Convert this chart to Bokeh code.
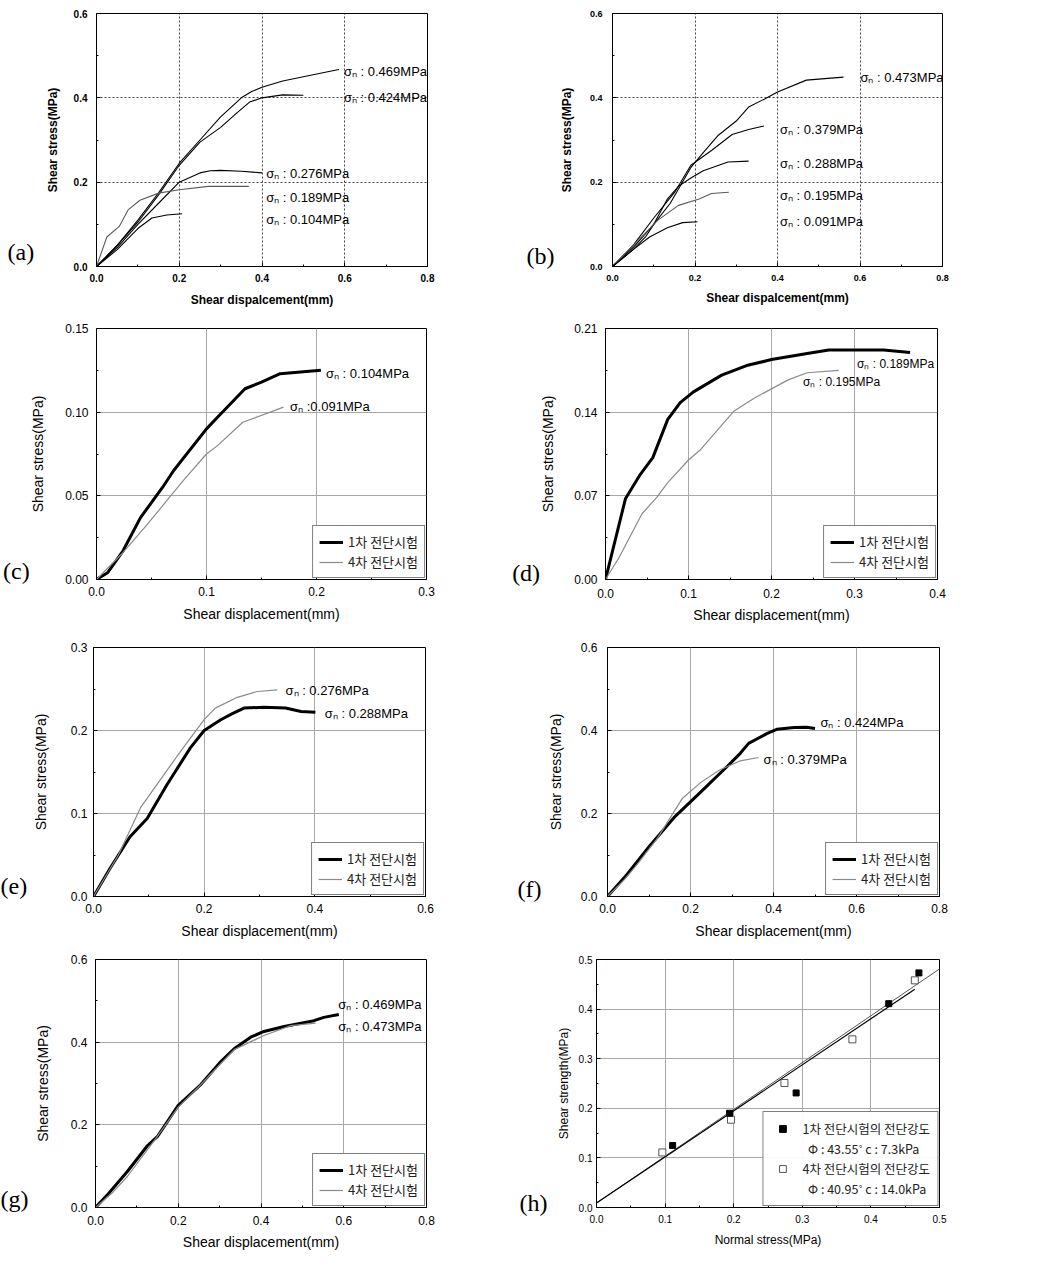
from bokeh.plotting import figure
from bokeh.models import Range1d, FixedTicker, PrintfTickFormatter, Label, Legend, LegendItem
from bokeh.layouts import column, row
from bokeh.embed import file_html
from bokeh.resources import INLINE
from bokeh.core.properties import value

SANS = "Liberation Sans"
SERIF = "Liberation Serif"
KR = "Noto Sans CJK KR"
SIG = "\u03c3\u2099"

# ---------------- data ----------------
# (a) first shear test, all normal stresses
a469_x = [0, 0.05, 0.10, 0.15, 0.20, 0.25, 0.30, 0.35, 0.375, 0.40, 0.45, 0.50, 0.55, 0.586]
a469_y = [0, 0.05, 0.11, 0.175, 0.245, 0.30, 0.355, 0.40, 0.415, 0.425, 0.44, 0.45, 0.46, 0.467]
a424_x = [0, 0.05, 0.10, 0.15, 0.20, 0.25, 0.30, 0.34, 0.37, 0.40, 0.45, 0.50]
a424_y = [0, 0.05, 0.105, 0.17, 0.24, 0.295, 0.33, 0.365, 0.39, 0.40, 0.407, 0.406]
a276_x = [0, 0.05, 0.10, 0.15, 0.20, 0.25, 0.275, 0.30, 0.35, 0.40]
a276_y = [0, 0.045, 0.10, 0.15, 0.20, 0.222, 0.227, 0.228, 0.226, 0.222]
a189_x = [0, 0.025, 0.055, 0.077, 0.105, 0.15, 0.20, 0.27, 0.368]
a189_y = [0, 0.07, 0.095, 0.135, 0.157, 0.174, 0.182, 0.19, 0.19]
a104_x = [0, 0.05, 0.10, 0.134, 0.17, 0.207]
a104_y = [0, 0.04, 0.09, 0.115, 0.122, 0.125]
a_lab_x = [0.598, 0.598, 0.41, 0.41, 0.41]
a_lab_y = [0.463, 0.400, 0.220, 0.164, 0.112]
a_lab_t = [SIG + " : 0.469MPa", SIG + " : 0.424MPa", SIG + " : 0.276MPa",
           SIG + " : 0.189MPa", SIG + " : 0.104MPa"]

# (b) fourth shear test, all normal stresses
b473_x = [0, 0.05, 0.10, 0.14, 0.19, 0.22, 0.255, 0.30, 0.33, 0.37, 0.40, 0.47, 0.56]
b473_y = [0, 0.045, 0.10, 0.15, 0.235, 0.27, 0.31, 0.345, 0.378, 0.398, 0.414, 0.442, 0.449]
b379_x = [0, 0.05, 0.10, 0.15, 0.19, 0.24, 0.29, 0.33, 0.367]
b379_y = [0, 0.05, 0.115, 0.175, 0.24, 0.275, 0.313, 0.325, 0.333]
b288_x = [0, 0.05, 0.08, 0.10, 0.133, 0.16, 0.19, 0.22, 0.28, 0.33]
b288_y = [0, 0.04, 0.07, 0.10, 0.16, 0.19, 0.21, 0.227, 0.248, 0.25]
b195_x = [0, 0.04, 0.08, 0.11, 0.16, 0.21, 0.24, 0.282]
b195_y = [0, 0.04, 0.08, 0.11, 0.145, 0.16, 0.173, 0.176]
b091_x = [0, 0.05, 0.09, 0.133, 0.17, 0.206]
b091_y = [0, 0.04, 0.07, 0.092, 0.104, 0.106]
b_lab_x = [0.601, 0.406, 0.406, 0.406, 0.406]
b_lab_y = [0.448, 0.325, 0.245, 0.169, 0.106]
b_lab_t = [SIG + " : 0.473MPa", SIG + " : 0.379MPa", SIG + " : 0.288MPa",
           SIG + " : 0.195MPa", SIG + " : 0.091MPa"]

# (c)
c1_x = [0, 0.01, 0.024, 0.04, 0.06, 0.07, 0.10, 0.11, 0.135, 0.15, 0.167, 0.204]
c1_y = [0, 0.004, 0.017, 0.037, 0.055, 0.065, 0.09, 0.097, 0.114, 0.118, 0.123, 0.125]
c4_x = [0, 0.024, 0.045, 0.065, 0.08, 0.10, 0.11, 0.133, 0.17]
c4_y = [0, 0.016, 0.032, 0.048, 0.06, 0.075, 0.08, 0.094, 0.103]
c_lab_x = [0.2086, 0.176]
c_lab_y = [0.123, 0.1034]
c_lab_t = [SIG + " : 0.104MPa", SIG + " :0.091MPa"]

# (d)
d1_x = [0, 0.024, 0.042, 0.057, 0.075, 0.09, 0.106, 0.14, 0.17, 0.20, 0.243, 0.269, 0.335, 0.367]
d1_y = [0, 0.0675, 0.088, 0.102, 0.134, 0.148, 0.157, 0.171, 0.179, 0.184, 0.189, 0.192, 0.192, 0.19]
d4_x = [0, 0.016, 0.044, 0.062, 0.075, 0.10, 0.115, 0.155, 0.18, 0.22, 0.243, 0.281]
d4_y = [0, 0.018, 0.055, 0.069, 0.081, 0.10, 0.109, 0.141, 0.152, 0.167, 0.173, 0.175]
d_lab_x = [0.303, 0.238]
d_lab_y = [0.180, 0.165]
d_lab_t = [SIG + " : 0.189MPa", SIG + " : 0.195MPa"]

# (e)
e1_x = [0, 0.03, 0.066, 0.097, 0.133, 0.175, 0.20, 0.23, 0.25, 0.272, 0.308, 0.347, 0.375, 0.401]
e1_y = [0, 0.034, 0.072, 0.094, 0.135, 0.179, 0.20, 0.213, 0.22, 0.227, 0.228, 0.227, 0.223, 0.222]
e4_x = [0, 0.045, 0.085, 0.12, 0.151, 0.20, 0.22, 0.26, 0.296, 0.332]
e4_y = [0, 0.05, 0.107, 0.14, 0.169, 0.213, 0.227, 0.24, 0.247, 0.249]
e_lab_x = [0.347, 0.418]
e_lab_y = [0.248, 0.220]
e_lab_t = [SIG + " : 0.276MPa", SIG + " : 0.288MPa"]

# (f)
f1_x = [0, 0.047, 0.10, 0.16, 0.225, 0.29, 0.32, 0.34, 0.385, 0.408, 0.45, 0.48, 0.50]
f1_y = [0, 0.053, 0.12, 0.19, 0.252, 0.315, 0.345, 0.369, 0.393, 0.403, 0.407, 0.408, 0.405]
f4_x = [0, 0.04, 0.071, 0.12, 0.18, 0.225, 0.27, 0.32, 0.364]
f4_y = [0, 0.04, 0.077, 0.14, 0.236, 0.275, 0.305, 0.327, 0.335]
f_lab_x = [0.513, 0.376]
f_lab_y = [0.420, 0.330]
f_lab_t = [SIG + " : 0.424MPa", SIG + " : 0.379MPa"]

# (g)
g1_x = [0, 0.03, 0.077, 0.126, 0.15, 0.20, 0.254, 0.303, 0.335, 0.375, 0.407, 0.456, 0.528, 0.552, 0.588]
g1_y = [0, 0.032, 0.087, 0.15, 0.172, 0.247, 0.297, 0.353, 0.384, 0.412, 0.426, 0.438, 0.452, 0.46, 0.467]
g4_x = [0, 0.04, 0.077, 0.142, 0.20, 0.254, 0.335, 0.407, 0.472, 0.532]
g4_y = [0, 0.035, 0.075, 0.162, 0.243, 0.297, 0.382, 0.416, 0.44, 0.446]
g_lab_x = [0.587, 0.587]
g_lab_y = [0.490, 0.437]
g_lab_t = [SIG + " : 0.469MPa", SIG + " : 0.473MPa"]

# (h) shear strength vs normal stress
h1_x = [0.111, 0.194, 0.291, 0.426, 0.470]
h1_y = [0.125, 0.190, 0.231, 0.411, 0.473]
h4_x = [0.096, 0.196, 0.274, 0.373, 0.464]
h4_y = [0.111, 0.177, 0.251, 0.339, 0.458]
hfitA_x = [0.0, 0.464]
hfitA_y = [0.009, 0.440]
hfitB_x = [0.0, 0.500]
hfitB_y = [0.009, 0.481]

LEG1 = "1차 전단시험"
LEG4 = "4차 전단시험"
H_LEG = ["1차 전단시험의 전단강도", "\u00a0\u00a0\u03a6 : 43.55\u02da c : 7.3kPa",
         "4차 전단시험의 전단강도", "\u00a0\u00a0\u03a6 : 40.95\u02da c : 14.0kPa"]

X_SHEAR = "Shear displacement(mm)"
X_SHEAR_AB = "Shear dispalcement(mm)"
Y_SHEAR = "Shear stress(MPa)"

T08 = [0, 0.2, 0.4, 0.6, 0.8]
M08 = [0.1, 0.3, 0.5, 0.7]
T06 = [0, 0.2, 0.4, 0.6]
M06 = [0.1, 0.3, 0.5]


def make_fig(width, height, xr, yr, borders):
    l, r, t, b = borders
    p = figure(width=width, height=height, x_range=Range1d(*xr), y_range=Range1d(*yr),
               output_backend="svg", toolbar_location=None,
               min_border_left=l, min_border_right=r, min_border_top=t, min_border_bottom=b)
    p.outline_line_color = "black"
    p.outline_line_width = 1
    p.outline_line_alpha = 1
    p.background_fill_color = "white"
    p.border_fill_color = "white"
    return p


def style(p, xt, xmt, yt, ymt, xfmt, yfmt, xlabel, ylabel, bold, tick_fs, lab_fs,
          xls, yls, xas, yas, dotted):
    xtk = FixedTicker(ticks=xt, minor_ticks=xmt)
    ytk = FixedTicker(ticks=yt, minor_ticks=ymt)
    p.xaxis.ticker = xtk
    p.yaxis.ticker = ytk
    p.xgrid.ticker = FixedTicker(ticks=xt)
    p.ygrid.ticker = FixedTicker(ticks=yt)
    p.xaxis.formatter = PrintfTickFormatter(format=xfmt)
    p.yaxis.formatter = PrintfTickFormatter(format=yfmt)
    p.xaxis.axis_label = xlabel
    p.yaxis.axis_label = ylabel
    fs = "bold" if bold else "normal"
    for ax in (p.xaxis[0], p.yaxis[0]):
        ax.axis_line_color = "black"
        ax.major_tick_in = 4
        ax.major_tick_out = 0
        ax.minor_tick_in = 2
        ax.minor_tick_out = 0
        ax.major_tick_line_color = "black"
        ax.minor_tick_line_color = "black"
        ax.major_label_text_font = SANS
        ax.major_label_text_font_size = f"{tick_fs}px"
        ax.major_label_text_font_style = fs
        ax.major_label_text_color = "black"
        ax.axis_label_text_font = SANS
        ax.axis_label_text_font_size = f"{lab_fs}px"
        ax.axis_label_text_font_style = fs
        ax.axis_label_text_color = "black"
    p.xaxis.major_label_standoff = xls
    p.yaxis.major_label_standoff = yls
    p.xaxis.axis_label_standoff = xas
    p.yaxis.axis_label_standoff = yas
    for g in (p.xgrid[0], p.ygrid[0]):
        if dotted:
            g.grid_line_color = "#444444"
            g.grid_line_dash = "2 2"
            g.grid_line_width = 1
        else:
            g.grid_line_color = "#a8a8a8"
            g.grid_line_dash = "solid"
            g.grid_line_width = 1


def sigma_labels(p, xs, ys, ts, size=13):
    p.text(x=xs, y=ys, text=ts, text_font=value(SANS), text_font_size=f"{size}px",
           text_baseline="middle", text_align="left", text_color="black")


def panel_letter(p, txt, dx, dy):
    # placed in data units (outside the frame); added to a side panel so it is not clipped
    p.add_layout(Label(x=dx, y=dy, x_units="data", y_units="data", text=txt,
                       text_font=SERIF, text_font_size="24px", text_baseline="middle",
                       text_align="left", text_color="black"), "left")


def pair_legend(p, r1, r4):
    leg = Legend(items=[LegendItem(label=LEG1, renderers=[r1]),
                        LegendItem(label=LEG4, renderers=[r4])],
                 location="bottom_right")
    leg.border_line_color = "black"
    leg.border_line_width = 1
    leg.background_fill_color = "white"
    leg.background_fill_alpha = 1
    leg.label_text_font = KR
    leg.label_text_font_size = "13px"
    leg.label_text_color = "#222222"
    leg.glyph_width = 24
    leg.glyph_height = 16
    leg.label_height = 16
    leg.label_standoff = 5
    leg.spacing = 1
    leg.padding = 6
    leg.margin = 1
    p.add_layout(leg)


def pair_panel(borders, xr, yr, xt, xmt, yt, ymt, yfmt, x1, y1, x4, y4, lx, ly, lt, lsize,
               xls, yls, xas, yas, letter, ldx, ldy, width, height=314):
    p = make_fig(width, height, xr, yr, borders)
    style(p, xt, xmt, yt, ymt, "%.1f", yfmt, X_SHEAR, Y_SHEAR, False, 12, 14,
          xls, yls, xas, yas, False)
    r1 = p.line(x1, y1, line_color="black", line_width=3)
    r4 = p.line(x4, y4, line_color="#8a8a8a", line_width=1.2)
    sigma_labels(p, lx, ly, lt, lsize)
    pair_legend(p, r1, r4)
    panel_letter(p, letter, ldx, ldy)
    return p


# ---------------- (a) ----------------
pa = make_fig(508, 318, (0, 0.8), (0, 0.6), (96, 81, 13, 50))
style(pa, T08, M08, T06, M06, "%.1f", "%.1f", X_SHEAR_AB, Y_SHEAR, True, 10, 12,
      7, 9, 8, 11, True)
for xs, ys, col in ((a469_x, a469_y, "black"), (a424_x, a424_y, "black"),
                    (a276_x, a276_y, "black"), (a189_x, a189_y, "#5a5a5a"),
                    (a104_x, a104_y, "black")):
    pa.line(xs, ys, line_color=col, line_width=1.1)
sigma_labels(pa, a_lab_x, a_lab_y, a_lab_t, 13)
panel_letter(pa, "(a)", -0.215, 0.035)

# ---------------- (b) ----------------
pb = make_fig(450, 318, (0, 0.8), (0, 0.6), (104, 16, 11, 52))
style(pb, T08, M08, T06, M06, "%.1f", "%.1f", X_SHEAR_AB, Y_SHEAR, True, 9, 12,
      8, 10, 7, 13, True)
for xs, ys, col in ((b473_x, b473_y, "black"), (b379_x, b379_y, "black"),
                    (b288_x, b288_y, "black"), (b195_x, b195_y, "#5a5a5a"),
                    (b091_x, b091_y, "black")):
    pb.line(xs, ys, line_color=col, line_width=1.1)
sigma_labels(pb, b_lab_x, b_lab_y, b_lab_t, 13)
panel_letter(pb, "(b)", -0.2085, 0.026)

# ---------------- (c)-(g) ----------------
pc = pair_panel((94, 82, 10, 51), (0, 0.3), (0, 0.15), [0, 0.1, 0.2, 0.3], [0.05, 0.15, 0.25],
                [0, 0.05, 0.10, 0.15], [0.025, 0.075, 0.125], "%.2f",
                c1_x, c1_y, c4_x, c4_y, c_lab_x, c_lab_y, c_lab_t, 13,
                7, 8, 7, 16, "(c)", -0.085, 0.0053, 508)
pd = pair_panel((97, 21, 9, 53), (0, 0.4), (0, 0.21), [0, 0.1, 0.2, 0.3, 0.4],
                [0.05, 0.15, 0.25, 0.35], [0, 0.07, 0.14, 0.21], [0.035, 0.105, 0.175], "%.2f",
                d1_x, d1_y, d4_x, d4_y, d_lab_x, d_lab_y, d_lab_t, 12,
                9, 8, 6, 15, "(d)", -0.1125, 0.0058, 450)
pe = pair_panel((93, 83, 15, 47), (0, 0.6), (0, 0.3), [0, 0.2, 0.4, 0.6], [0.1, 0.3, 0.5],
                [0, 0.1, 0.2, 0.3], [0.05, 0.15, 0.25], "%.1f",
                e1_x, e1_y, e4_x, e4_y, e_lab_x, e_lab_y, e_lab_t, 13,
                7, 6, 7, 19, "(e)", -0.168, 0.013, 508)
pf = pair_panel((99, 19, 12, 50), (0, 0.8), (0, 0.6), T08, M08, T06, M06, "%.1f",
                f1_x, f1_y, f4_x, f4_y, f_lab_x, f_lab_y, f_lab_t, 13,
                7, 10, 7, 14, "(f)", -0.217, 0.019, 450)
pg = pair_panel((95, 82, 13, 48), (0, 0.8), (0, 0.6), T08, M08, T06, M06, "%.1f",
                g1_x, g1_y, g4_x, g4_y, g_lab_x, g_lab_y, g_lab_t, 13,
                8, 8, 6, 17, "(g)", -0.2296, 0.021, 508)

# ---------------- (h) ----------------
ph = make_fig(450, 314, (0, 0.5), (0, 0.5), (88, 19, 12, 53))
T05 = [0, 0.1, 0.2, 0.3, 0.4, 0.5]
M05 = [0.05, 0.15, 0.25, 0.35, 0.45]
style(ph, T05, M05, T05, M05, "%.1f", "%.1f", "Normal stress(MPa)", "Shear strength(MPa)",
      False, 10, 12, 7, 4, 7, 5, False)
ph.line(hfitB_x, hfitB_y, line_color="#555555", line_width=1)
ph.line(hfitA_x, hfitA_y, line_color="black", line_width=1.2)
rh4 = ph.scatter(h4_x, h4_y, marker="square", size=7, fill_color="white",
                 line_color="#555555", line_width=1)
rh1 = ph.scatter(h1_x, h1_y, marker="square", size=6, fill_color="black", line_color="black")
blank1 = ph.scatter([], [], size=0, fill_alpha=0, line_alpha=0)
blank2 = ph.scatter([], [], size=0, fill_alpha=0, line_alpha=0)
hleg = Legend(items=[LegendItem(label=H_LEG[0], renderers=[rh1]),
                     LegendItem(label=H_LEG[1], renderers=[blank1]),
                     LegendItem(label=H_LEG[2], renderers=[rh4]),
                     LegendItem(label=H_LEG[3], renderers=[blank2])],
              location="bottom_right")
hleg.border_line_color = "black"
hleg.border_line_width = 1
hleg.background_fill_color = "white"
hleg.label_text_font = KR
hleg.label_text_font_size = "12.5px"
hleg.label_text_color = "#222222"
hleg.glyph_width = 24
hleg.glyph_height = 17
hleg.label_height = 17
hleg.label_standoff = 8
hleg.spacing = 1
hleg.padding = 7
hleg.margin = 1
ph.add_layout(hleg)
panel_letter(ph, "(h)", -0.1122, 0.01)

layout = column(row(pa, pb), row(pc, pd), row(pe, pf), row(pg, ph))
open("out.html", "w").write(file_html(layout, INLINE))
